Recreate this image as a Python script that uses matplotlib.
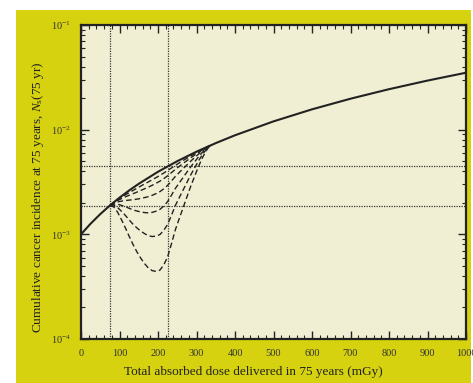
import numpy as np
import matplotlib
matplotlib.use("Agg")
import matplotlib.pyplot as plt
import matplotlib.patches as patches
from matplotlib.ticker import LogLocator, MultipleLocator

plt.rcParams["font.family"] = "Liberation Serif"
plt.rcParams["mathtext.fontset"] = "custom"
plt.rcParams["mathtext.rm"] = "Liberation Serif"
plt.rcParams["mathtext.it"] = "Liberation Serif:italic"

# solid curve: total dose (mGy) vs cumulative incidence
dose = [0, 25, 50, 75, 100, 125, 150, 200, 250, 300, 350, 400,
        500, 600, 700, 800, 900, 1000]
incidence = [1.0e-3, 1.265e-3, 1.56e-3, 1.885e-3, 2.24e-3, 2.625e-3, 3.04e-3,
             3.96e-3, 5.0e-3, 6.16e-3, 7.44e-3, 8.84e-3,
             1.2e-2, 1.564e-2, 1.976e-2, 2.436e-2, 2.944e-2, 3.5e-2]

# dashed curves, read as log10 of incidence
dose_dash = [75, 85, 95, 105, 115, 125, 135, 145, 155, 165, 175, 185, 195,
             205, 215, 225, 235, 245, 255, 265, 275, 285, 295, 305, 315, 325, 335]
log_dash1 = [-2.725, -2.737, -2.788, -2.859, -2.936, -3.018, -3.096, -3.166,
             -3.227, -3.279, -3.322, -3.347, -3.354, -3.342, -3.292, -3.215,
             -3.090, -2.957, -2.852, -2.748, -2.644, -2.541, -2.447, -2.354,
             -2.271, -2.202, -2.152]
log_dash2 = [-2.725, -2.721, -2.744, -2.779, -2.818, -2.862, -2.903, -2.938,
             -2.969, -2.993, -3.013, -3.021, -3.017, -3.002, -2.962, -2.905,
             -2.818, -2.725, -2.651, -2.578, -2.505, -2.432, -2.366, -2.300,
             -2.240, -2.190, -2.152]
log_dash3 = [-2.725, -2.711, -2.712, -2.723, -2.736, -2.751, -2.766, -2.777,
             -2.786, -2.792, -2.795, -2.790, -2.779, -2.762, -2.730, -2.687,
             -2.626, -2.562, -2.510, -2.458, -2.406, -2.355, -2.308, -2.261,
             -2.218, -2.181, -2.152]
log_dash4 = [-2.725, -2.703, -2.690, -2.683, -2.677, -2.673, -2.669, -2.664,
             -2.657, -2.649, -2.640, -2.627, -2.611, -2.592, -2.565, -2.532,
             -2.490, -2.447, -2.410, -2.373, -2.337, -2.301, -2.267, -2.234,
             -2.203, -2.175, -2.152]
log_dash5 = [-2.725, -2.698, -2.677, -2.659, -2.642, -2.627, -2.612, -2.597,
             -2.581, -2.565, -2.549, -2.531, -2.512, -2.492, -2.468, -2.441,
             -2.410, -2.379, -2.351, -2.323, -2.296, -2.269, -2.243, -2.218,
             -2.194, -2.172, -2.152]
log_dash6 = [-2.725, -2.696, -2.670, -2.646, -2.623, -2.602, -2.581, -2.560,
             -2.539, -2.519, -2.499, -2.478, -2.458, -2.437, -2.414, -2.391,
             -2.366, -2.341, -2.318, -2.295, -2.273, -2.251, -2.230, -2.209,
             -2.189, -2.170, -2.152]

# reference lines
vlines = [75, 225]
hlines = [1.885e-3, 4.47e-3]

fig = plt.figure(figsize=(4.73, 3.83), dpi=100)
fig.patch.set_facecolor("white")
fig.patches.append(patches.Rectangle((16 / 473, 0), 455 / 473, 373 / 383,
                                     transform=fig.transFigure,
                                     facecolor="#d6d20f", edgecolor="none",
                                     zorder=-10))

ax = fig.add_axes([81 / 473, 1 - 339 / 383, 385 / 473, 314 / 383])
ax.set_facecolor("#f1efd3")

for x in vlines:
    ax.axvline(x, color="#333333", lw=0.9, ls=(0, (1, 1)), zorder=1)
for y in hlines:
    ax.axhline(y, color="#333333", lw=0.9, ls=(0, (1, 1)), zorder=1)

for d in [log_dash1, log_dash2, log_dash3, log_dash4, log_dash5, log_dash6]:
    ax.plot(dose_dash, 10 ** np.array(d), color="#222222", lw=1.0,
            ls=(0, (4, 2.2)), zorder=2)

ax.plot(dose, incidence, color="#222222", lw=1.5, zorder=3)

ax.set_yscale("log")
ax.set_xlim(0, 1000)
ax.set_ylim(1e-4, 1e-1)
ax.xaxis.set_major_locator(MultipleLocator(100))
ax.xaxis.set_minor_locator(MultipleLocator(20))
ax.yaxis.set_major_locator(LogLocator(base=10))
ax.yaxis.set_minor_locator(LogLocator(base=10, subs=np.arange(2, 10)))

ax.tick_params(which="both", direction="in", top=True, right=True,
               color="#222222", labelsize=7.5, labelcolor="#333333")
ax.tick_params(which="major", length=6, width=1.0, pad=7)
ax.tick_params(which="minor", length=3, width=0.8)
for s in ax.spines.values():
    s.set_linewidth(1.6)
    s.set_color("#222222")

ax.set_xlabel("Total absorbed dose delivered in 75 years (mGy)", fontsize=9.5,
              color="#222222")
ax.set_ylabel(r"Cumulative cancer incidence at 75 years, $N_{\rm s}$(75 yr)",
              fontsize=9.5, color="#222222")
ax.xaxis.set_label_coords((253 - 81) / 385, -0.085)
ax.yaxis.set_label_coords(-0.092, 0.452)

fig.savefig("out.png", dpi=100)
